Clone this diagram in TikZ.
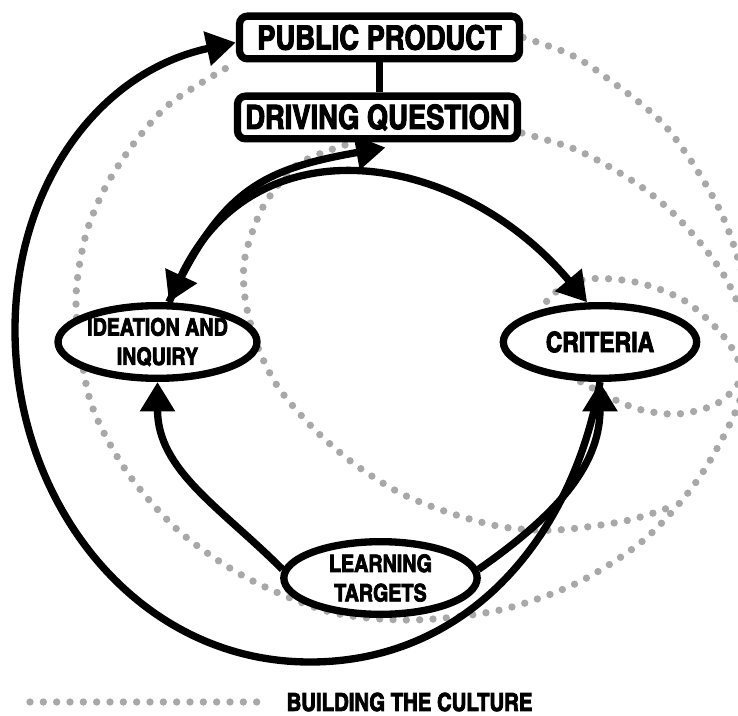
\documentclass[tikz,border=0pt]{standalone}
\usepackage{fontspec}
\usepackage{xcolor}
\usepackage{tikz}
\usetikzlibrary{shapes.geometric}
\usetikzlibrary{arrows.meta}
\usetikzlibrary{backgrounds}
\newfontfamily\lblfont{texgyreheroscn-bold}[Extension=.otf,FakeBold=3]
\definecolor{dotgray}{HTML}{A8A8A8}

\tikzset{
  stage/.style={draw,fill=white,rounded corners=6pt,inner sep=0pt,
    minimum width=210pt,minimum height=32pt,
    font=\lblfont\fontsize{25}{30}\selectfont},
  phase/.style={ellipse,draw,fill=white,inner sep=0pt,align=center,
    minimum width=145pt,minimum height=54.5pt,
    font=\lblfont\fontsize{18}{22}\selectfont},
  culture/.style={draw=dotgray,line width=5.5pt,line cap=round,
    dash pattern=on 0pt off 10pt},
  >={Triangle[length=22pt,width=25pt]}
}

\begin{document}
\begin{tikzpicture}[x=0.75pt,y=0.75pt,line width=5.5pt]
  \useasboundingbox (0,0) rectangle (738,715);

  \node[stage] at (379.5,677.5) (pp) {PUBLIC PRODUCT};
  \node[stage] at (377.5,597.5) (dq) {DRIVING QUESTION};
  \node[phase] at (157.5,373) (ide) {IDEATION AND\\INQUIRY};
  \node[phase,font=\lblfont\fontsize{21}{25}\selectfont] at (600,373) (cri) {CRITERIA};
  \node[phase] at (380.5,137) (lt) {LEARNING\\TARGETS};

  \coordinate (loopbot) at (310,53);
  \coordinate (loopleft) at (15,385);

  % building the culture (behind everything)
  \begin{scope}[on background layer]
    \clip (0,0) rectangle (738,715);
    \draw[culture] plot[smooth] coordinates {(pp.east) (567,662) (600,642) (667,587)
      (723,498) (752,395) (740,315) (699,237) (645,176) (577,132) (500,105)
      (413,95) (330,103) (247,137) (180,183) (127,243) (90,315) (76,410)
      (85,477) (105,527) (135,573) (172,613) (pp.south west)};
    \draw[culture] plot[smooth] coordinates {(522,582) (572,567) (608,549) (643,527)
      (673,502) (702,470) (725,438) (745,395) (760,345)};
    \draw[culture] plot[smooth] coordinates {(345,570) (297,550) (263,508) (245,458)
      (245,417) (257,370) (278,328) (313,287) (353,252) (400,222) (450,202)
      (503,188) (557,185) (625,194) (668,207)};
    \draw[culture] plot[smooth cycle] coordinates {(545,410) (582,435) (635,433)
      (685,414) (725,377) (742,340) (718,312) (678,301) (638,306) (600,323)
      (560,350)};
  \end{scope}

  \draw (pp.south) -- (pp.south |- dq.north);

  \draw [<->] (ide.74) to[out=65,in=130,looseness=1.23] (cri.108);
  \draw [->] (ide.74) to[out=65,in=190,looseness=1.2] ([shift={(8,-5)}]dq.south);
  \draw [->] (lt.175) to[out=135,in=-90] (ide.south);
  \draw [->] (lt.5) to[out=35,in=-90] (cri.south);
  \draw [->] (cri.south) to[out=-100,in=0] (loopbot)
    to[out=180,in=-90] (loopleft) to[out=90,in=192] ([shift={(0,-5)}]pp.west);

  % legend
  \coordinate (legdots) at (30,13);
  \node[anchor=west,inner sep=0pt,font=\lblfont\fontsize{18.6}{22}\selectfont]
    at (283,13) (legend) {BUILDING THE CULTURE};
  \draw[culture] (legdots) -- ([xshift=-12]legend.west);
\end{tikzpicture}
\end{document}
